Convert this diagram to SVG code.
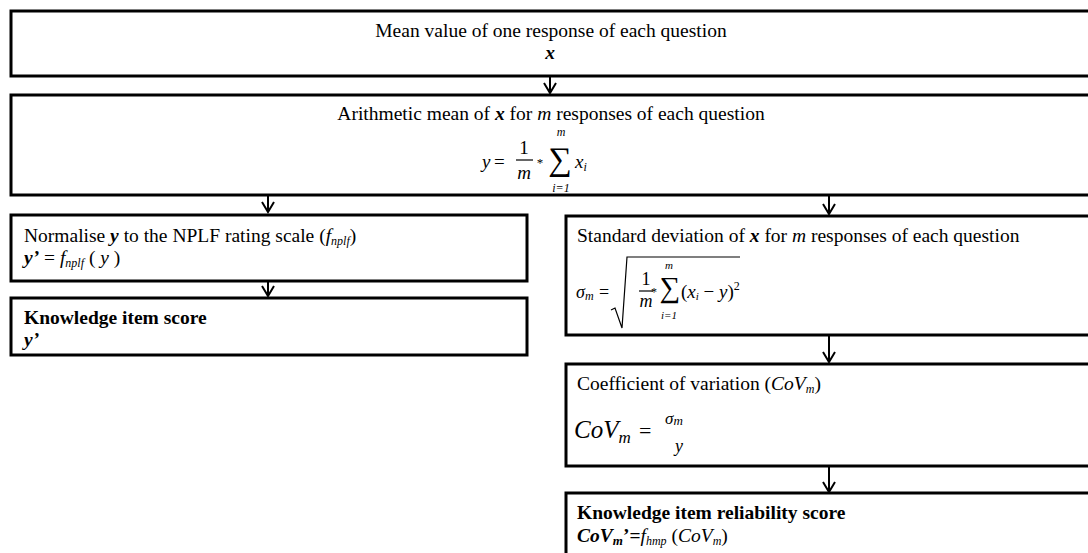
<svg xmlns="http://www.w3.org/2000/svg" width="1088" height="553" viewBox="0 0 1088 553">
<style>
.box{fill:#fff;stroke:#000;stroke-width:3}
.t{font-family:"Liberation Serif","Times New Roman",serif;font-size:19.5px;fill:#000}
.b{font-weight:bold}
.i{font-style:italic}
.f{font-family:"Liberation Serif","Times New Roman",serif;fill:#000}
.c{stroke:#000;stroke-width:2;fill:none}
.bar{stroke:#000;stroke-width:1.2}
</style>
<defs>
<marker id="ah" markerUnits="userSpaceOnUse" markerWidth="14" markerHeight="14" viewBox="0 0 14 14" refX="12" refY="7" orient="auto">
<path d="M2,1 L12,7 L2,13" fill="none" stroke="#000" stroke-width="2"/>
</marker>
</defs>
<rect width="1088" height="553" fill="#fff"/>
<g id="connectors">
<line class="c" x1="550" y1="77" x2="550" y2="93" marker-end="url(#ah)"/>
<line class="c" x1="268" y1="196" x2="268" y2="212" marker-end="url(#ah)"/>
<line class="c" x1="829" y1="196" x2="829" y2="214" marker-end="url(#ah)"/>
<line class="c" x1="268" y1="282" x2="268" y2="296" marker-end="url(#ah)"/>
<line class="c" x1="829" y1="336" x2="829" y2="362" marker-end="url(#ah)"/>
<line class="c" x1="829" y1="467" x2="829" y2="492" marker-end="url(#ah)"/>
</g>
<g id="node-mean-value">
<rect class="box" x="11" y="11" width="1090" height="65"/>
<text class="t" x="551" y="37" text-anchor="middle">Mean value of one response of each question</text>
<text class="t b i" x="550" y="59" text-anchor="middle">x</text>
</g>
<g id="node-arithmetic-mean">
<rect class="box" x="11" y="95" width="1090" height="100"/>
<text class="t" x="551" y="120" text-anchor="middle">Arithmetic mean of <tspan class="b i">x</tspan> for <tspan class="i">m</tspan> responses of each question</text>
<text class="f i" x="482" y="168" font-size="19">y</text>
<text class="f" x="494" y="168" font-size="19">=</text>
<text class="f" x="524" y="154" font-size="19" text-anchor="middle">1</text>
<line class="bar" x1="516" y1="160" x2="533" y2="160"/>
<text class="f i" x="524" y="179" font-size="19" text-anchor="middle">m</text>
<text class="f" x="540" y="167" font-size="13" text-anchor="middle">*</text>
<text class="f" x="560" y="170" font-size="33" text-anchor="middle">∑</text>
<text class="f i" x="561" y="136" font-size="12" text-anchor="middle">m</text>
<text class="f i" x="561" y="192" font-size="12" text-anchor="middle">i=1</text>
<text class="f i" x="575" y="168" font-size="19">x<tspan font-size="12" dy="3">i</tspan></text>
</g>
<g id="node-normalise">
<rect class="box" x="11" y="215" width="516" height="66"/>
<text class="t" x="24" y="242">Normalise <tspan class="b i">y</tspan> to the NPLF  rating scale (<tspan class="i">f<tspan font-size="12" dy="3">nplf</tspan></tspan><tspan dy="-3">)</tspan></text>
<text class="t" x="24" y="264"><tspan class="b i">y’</tspan> = <tspan class="i">f<tspan font-size="12" dy="3">nplf</tspan></tspan><tspan dy="-3">  ( </tspan><tspan class="i">y</tspan> )</text>
</g>
<g id="node-knowledge-item-score">
<rect class="box" x="11" y="298" width="516" height="57"/>
<text class="t b" x="24" y="324">Knowledge item score</text>
<text class="t b i" x="24" y="346">y’</text>
</g>
<g id="node-standard-deviation">
<rect class="box" x="566" y="216" width="540" height="119"/>
<text class="t" x="577" y="242">Standard deviation of <tspan class="b i">x</tspan> for <tspan class="i">m</tspan> responses of each question</text>
<text class="f i" x="576" y="298" font-size="18">σ<tspan font-size="12" dy="2">m</tspan></text>
<text class="f" x="599" y="298" font-size="18">=</text>
<path d="M611,310 L615,308 L622,328 L627,257 L740,257" fill="none" stroke="#000" stroke-width="1.2"/>
<text class="f" x="646" y="285" font-size="18" text-anchor="middle">1</text>
<line class="bar" x1="639" y1="291" x2="653" y2="291"/>
<text class="f i" x="646" y="307" font-size="18" text-anchor="middle">m</text>
<text class="f" x="654" y="296" font-size="12" text-anchor="middle">*</text>
<text class="f" x="670" y="297" font-size="29" text-anchor="middle">∑</text>
<text class="f i" x="669" y="269" font-size="11" text-anchor="middle">m</text>
<text class="f i" x="669" y="319" font-size="11" text-anchor="middle">i=1</text>
<text class="f" x="681" y="298" font-size="19">(<tspan class="i">x</tspan><tspan class="i" font-size="11" dy="2">i</tspan><tspan dy="-2"> − </tspan><tspan class="i">y</tspan>)<tspan font-size="12" dy="-8">2</tspan></text>
</g>
<g id="node-coefficient">
<rect class="box" x="566" y="364" width="540" height="102"/>
<text class="t" x="577" y="390">Coefficient of variation (<tspan class="i">CoV<tspan font-size="12" dy="3">m</tspan></tspan><tspan dy="-3">)</tspan></text>
<text class="f i" x="574" y="438" font-size="25">CoV<tspan font-size="17" dy="5">m</tspan></text>
<text class="f" x="639" y="438" font-size="22">=</text>
<text class="f i" x="665" y="424" font-size="17">σ<tspan font-size="13" dy="1">m</tspan></text>
<text class="f i" x="679" y="452" font-size="18" text-anchor="middle">y</text>
</g>
<g id="node-reliability-score">
<rect class="box" x="566" y="493" width="540" height="70"/>
<text class="t b" x="577" y="519">Knowledge item reliability score</text>
<text class="t" x="577" y="542"><tspan class="b i">CoV<tspan font-size="13" dy="3">m</tspan></tspan><tspan class="b" dy="-3">’=</tspan><tspan class="i">f<tspan font-size="12" dy="3">hmp</tspan></tspan><tspan dy="-3">  (</tspan><tspan class="i">CoV<tspan font-size="12" dy="3">m</tspan></tspan><tspan dy="-3">)</tspan></text>
</g>
</svg>
